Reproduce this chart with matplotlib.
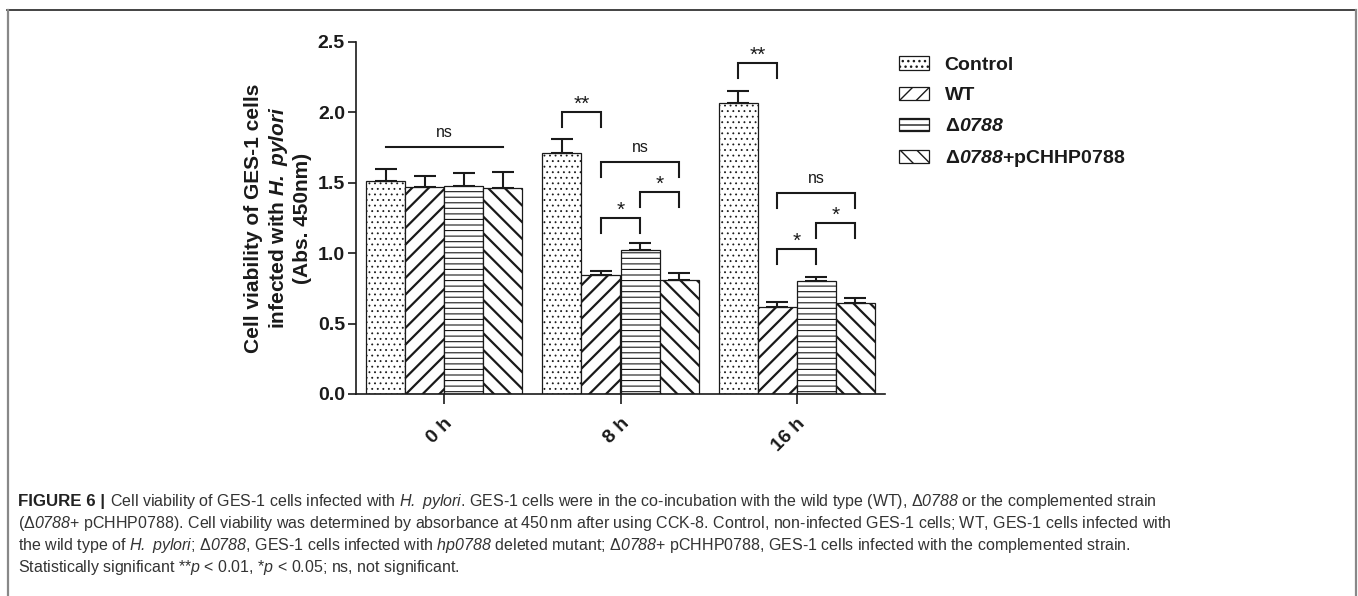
import matplotlib
matplotlib.use('Agg')
import matplotlib.pyplot as plt
from matplotlib.lines import Line2D
import numpy as np

plt.rcParams['font.family'] = ['Liberation Sans', 'DejaVu Sans']
plt.rcParams['mathtext.fontset'] = 'custom'
plt.rcParams['mathtext.rm'] = 'Liberation Sans'
plt.rcParams['mathtext.it'] = 'Liberation Sans:italic'
plt.rcParams['mathtext.sf'] = 'Liberation Sans:italic'
plt.rcParams['mathtext.bf'] = 'Liberation Sans:bold'
try:
    plt.rcParams['mathtext.bfit'] = 'Liberation Sans:bold:italic'
except KeyError:
    pass

# ---------------- data ----------------
timepoints = ['0 h', '8 h', '16 h']
series_labels = ['Control', 'WT', r'Δ$\mathbfit{0788}$', r'Δ$\mathbfit{0788}$+pCHHP0788']
control_mean = [1.51, 1.71, 2.07]
control_err = [0.085, 0.10, 0.085]
wt_mean = [1.47, 0.845, 0.62]
wt_err = [0.078, 0.03, 0.035]
d0788_mean = [1.48, 1.02, 0.80]
d0788_err = [0.092, 0.05, 0.03]
comp_mean = [1.46, 0.81, 0.645]
comp_err = [0.115, 0.05, 0.035]

# significance brackets: (timepoint index, left bar, right bar, height, label)
sig_time = [1, 1, 1, 1, 2, 2, 2, 2]
sig_left = [0, 1, 1, 2, 0, 1, 1, 2]
sig_right = [1, 3, 2, 3, 1, 3, 2, 3]
sig_height = [2.00, 1.65, 1.25, 1.435, 2.35, 1.43, 1.03, 1.215]
sig_label = ['**', 'ns', '*', '*', '**', 'ns', '*', '*']
# plain line (no legs) at 0 h
line_time = 0
line_left, line_right = 0, 3
line_height = 1.755
line_label = 'ns'

means = [control_mean, wt_mean, d0788_mean, comp_mean]
errs = [control_err, wt_err, d0788_err, comp_err]
hatches = ['...', '//', '---', '\\\\']
hatch_lw = [0.6, 1.6, 0.8, 1.6]

# ---------------- figure ----------------
W, H = 1358, 596
fig = plt.figure(figsize=(W / 100, H / 100), dpi=100)
ax = fig.add_axes([356 / W, (H - 394) / H, (885 - 356) / W, (394 - 42) / H])

x = np.arange(len(timepoints))
bw = 39 / 176
ink = '#1a1a1a'

def bar_x(t, i):
    return x[t] + (i - 1.5) * bw

handles = []
for i in range(4):
    with plt.rc_context({'hatch.linewidth': hatch_lw[i]}):
        bars = ax.bar(x + (i - 1.5) * bw, means[i], width=bw, color='white',
                      edgecolor=ink, linewidth=0.9, hatch=hatches[i], zorder=2,
                      label=series_labels[i])
        for p in bars:
            try:
                p.set_hatch_linewidth(hatch_lw[i])
            except AttributeError:
                pass
    handles.append(bars)
    ax.errorbar(x + (i - 1.5) * bw, means[i],
                yerr=[np.zeros(len(x)), errs[i]], fmt='none', ecolor=ink,
                elinewidth=1.5, capsize=8, capthick=1.5, zorder=3)

leg = 0.107
for t, l, r, h, lab in zip(sig_time, sig_left, sig_right, sig_height, sig_label):
    x0, x1 = bar_x(t, l), bar_x(t, r)
    ax.plot([x0, x0, x1, x1], [h - leg, h, h, h - leg], color=ink, lw=1.5,
            clip_on=False, zorder=4, solid_joinstyle='miter')
    if lab == 'ns':
        ax.text((x0 + x1) / 2, h + 0.10, lab, ha='center', va='center',
                fontsize=11.5, color=ink, clip_on=False)
    else:
        ax.text((x0 + x1) / 2, h + 0.055, lab, ha='center', va='center',
                fontsize=15, color=ink, clip_on=False)

x0, x1 = bar_x(line_time, line_left), bar_x(line_time, line_right)
ax.plot([x0, x1], [line_height, line_height], color=ink, lw=1.5, clip_on=False)
ax.text((x0 + x1) / 2, line_height + 0.10, line_label, ha='center', va='center',
        fontsize=11.5, color=ink)

ax.set_xlim(-0.5, 2.5)
ax.set_ylim(0, 2.5)
ax.set_yticks([0.0, 0.5, 1.0, 1.5, 2.0, 2.5])
ax.set_yticklabels(['0.0', '0.5', '1.0', '1.5', '2.0', '2.5'],
                   fontsize=14, fontweight='bold', color=ink)
ax.set_xticks(x)
ax.set_xticklabels(timepoints, rotation=45, ha='right', va='top',
                   rotation_mode='anchor', fontsize=14, fontweight='bold', color=ink)
for s in ['top', 'right']:
    ax.spines[s].set_visible(False)
for s in ['left', 'bottom']:
    ax.spines[s].set_linewidth(1.2)
    ax.spines[s].set_color(ink)
ax.tick_params(axis='y', direction='out', length=6, width=1.2, pad=2, colors=ink)
ax.tick_params(axis='x', direction='inout', length=14, width=1.2, pad=8, colors=ink)

fig.text(278 / W, (H - 218) / H,
         'Cell viability of GES-1 cells\ninfected with $\\mathbfit{H.}$ $\\mathbfit{pylori}$\n(Abs. 450nm)',
         rotation=90, ha='center', va='center', multialignment='center',
         fontsize=15, fontweight='bold', color=ink, linespacing=1.2)

lg = ax.legend(handles=handles, labels=series_labels, loc='upper left',
               bbox_to_anchor=(899 / W, (H - 56) / H), bbox_transform=fig.transFigure,
               frameon=False, prop={'weight': 'bold', 'size': 14},
               handlelength=1.55, handleheight=0.7, handletextpad=0.8,
               labelspacing=0.68, borderpad=0, borderaxespad=0)
for t in lg.get_texts():
    t.set_color(ink)

# caption
cap_color = '#333333'
cap_lines = [
    r'Cell viability of GES-1 cells infected with $\mathsf{H.}$ $\mathsf{pylori}$. GES-1 cells were in the co-incubation with the wild type (WT), Δ$\mathsf{0788}$ or the complemented strain',
    r'(Δ$\mathsf{0788}$+ pCHHP0788). Cell viability was determined by absorbance at 450$\,$nm after using CCK-8. Control, non-infected GES-1 cells; WT, GES-1 cells infected with',
    r'the wild type of $\mathsf{H.}$ $\mathsf{pylori}$; Δ$\mathsf{0788}$, GES-1 cells infected with $\mathsf{hp0788}$ deleted mutant; Δ$\mathsf{0788}$+ pCHHP0788, GES-1 cells infected with the complemented strain.',
    r'Statistically significant **$\mathsf{p}$ < 0.01, *$\mathsf{p}$ < 0.05; ns, not significant.',
]
cap_size = 10.3
baselines = [506, 528, 550, 572]
left_px = 18
t0 = fig.text(left_px / W, (H - baselines[0]) / H, 'FIGURE 6 |', fontsize=cap_size + 0.6,
              fontweight='bold', color='#222222', va='baseline', ha='left')
cap_texts = []
first = fig.text(0, (H - baselines[0]) / H, cap_lines[0], fontsize=cap_size,
                 color=cap_color, va='baseline', ha='left')
cap_texts.append(first)
for line, b in zip(cap_lines[1:], baselines[1:]):
    cap_texts.append(fig.text(left_px / W, (H - b) / H, line, fontsize=cap_size,
                              color=cap_color, va='baseline', ha='left'))

# fit caption width to the reference (line 2 ends near x=1168 px)
fig.canvas.draw()
bb2 = cap_texts[1].get_window_extent()
scale = (1168 - left_px) / bb2.width
new_size = cap_size * scale
for t in cap_texts:
    t.set_fontsize(new_size)
t0.set_fontsize(new_size + 0.6)
fig.canvas.draw()
bb0 = t0.get_window_extent()
first.set_x((bb0.x1 + 5) / W)

# frame of the figure panel
fig.add_artist(Line2D([7 / W, 1356 / W], [(H - 10) / H] * 2, color='#222222', lw=1.2,
                      transform=fig.transFigure))
fig.add_artist(Line2D([7.5 / W] * 2, [0, (H - 10) / H], color='#888888', lw=1.6,
                      transform=fig.transFigure))
fig.add_artist(Line2D([1356 / W] * 2, [0, (H - 10) / H], color='#888888', lw=1.6,
                      transform=fig.transFigure))

fig.savefig('out.png', dpi=100, facecolor='white')
